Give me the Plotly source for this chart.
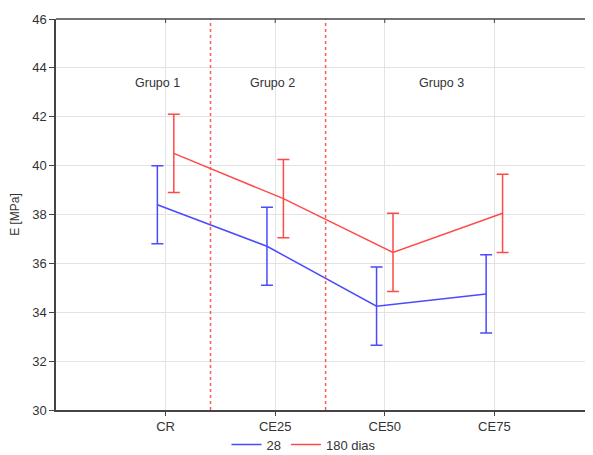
import plotly.graph_objects as go

categories = ["CR", "CE25", "CE50", "CE75"]
e28 = [38.4, 36.7, 34.25, 34.75]
e28_err = [1.6, 1.6, 1.6, 1.6]
e180 = [40.5, 38.65, 36.45, 38.05]
e180_err = [1.6, 1.6, 1.6, 1.6]
series_names = ["28", "180 dias"]
group_labels = ["Grupo 1", "Grupo 2", "Grupo 3"]
group_x = [-0.07, 0.98, 2.52]
divider_x = [0.41, 1.46]

idx = list(range(len(categories)))
off = 0.075
blue = "#4a4aff"
red = "#ff4a4a"
axis_col = "#444444"

fig = go.Figure()
fig.add_trace(go.Scatter(
    x=[i - off for i in idx], y=e28, mode="lines", name=series_names[0],
    line=dict(color=blue, width=1.5),
    error_y=dict(type="data", array=e28_err, color=blue, thickness=1.5, width=6),
))
fig.add_trace(go.Scatter(
    x=[i + off for i in idx], y=e180, mode="lines", name=series_names[1],
    line=dict(color=red, width=1.5),
    error_y=dict(type="data", array=e180_err, color=red, thickness=1.5, width=6),
))

for dx in divider_x:
    fig.add_shape(type="line", xref="x", yref="paper", x0=dx, x1=dx, y0=0, y1=1,
                  line=dict(color="#ff5a5a", width=1.5, dash="dot"), layer="above")

# top frame line (the right side of the frame is cut off in the reference)
fig.add_shape(type="line", xref="paper", yref="paper", x0=0, x1=1.05, y0=1, y1=1,
              line=dict(color=axis_col, width=1.5), layer="above")
for i in idx:
    fig.add_shape(type="line", xref="x", yref="paper", ysizemode="pixel", yanchor=1,
                  x0=i, x1=i, y0=0, y1=-4, line=dict(color=axis_col, width=1), layer="above")

for gx, gl in zip(group_x, group_labels):
    fig.add_annotation(x=gx, y=43.4, xref="x", yref="y", text=gl, showarrow=False,
                       font=dict(size=12.5, color="#333333"))

fig.update_layout(
    width=593, height=455,
    margin=dict(l=48, r=0, t=11, b=53, autoexpand=False),
    paper_bgcolor="white", plot_bgcolor="white",
    font=dict(family="Liberation Sans, Arial, sans-serif", size=12, color="#333333"),
    showlegend=True,
    legend=dict(orientation="h", x=0.455, xanchor="center", y=-0.05, yanchor="top",
                bgcolor="rgba(0,0,0,0)",
                font=dict(size=13, color="#333333"), itemwidth=30, tracegroupgap=0),
    xaxis=dict(range=[-1, 3.973], tickvals=idx, ticktext=categories, automargin=False,
               showgrid=True, gridcolor="#e3e3e3", gridwidth=1,
               showline=True, linecolor=axis_col, linewidth=1.5, mirror=False,
               ticks="outside", ticklen=4, tickcolor=axis_col, zeroline=False,
               tickfont=dict(size=13, color="#333333")),
    yaxis=dict(range=[30, 46], tickvals=list(range(30, 47, 2)), automargin=False,
               showgrid=True, gridcolor="#e3e3e3", gridwidth=1,
               showline=True, linecolor=axis_col, linewidth=1.5,
               ticks="outside", ticklen=5, tickcolor=axis_col, zeroline=False,
               title=dict(text="E [MPa]", font=dict(size=12, color="#333333"), standoff=12),
               tickfont=dict(size=13, color="#333333")),
)

fig.write_html("out.html")
